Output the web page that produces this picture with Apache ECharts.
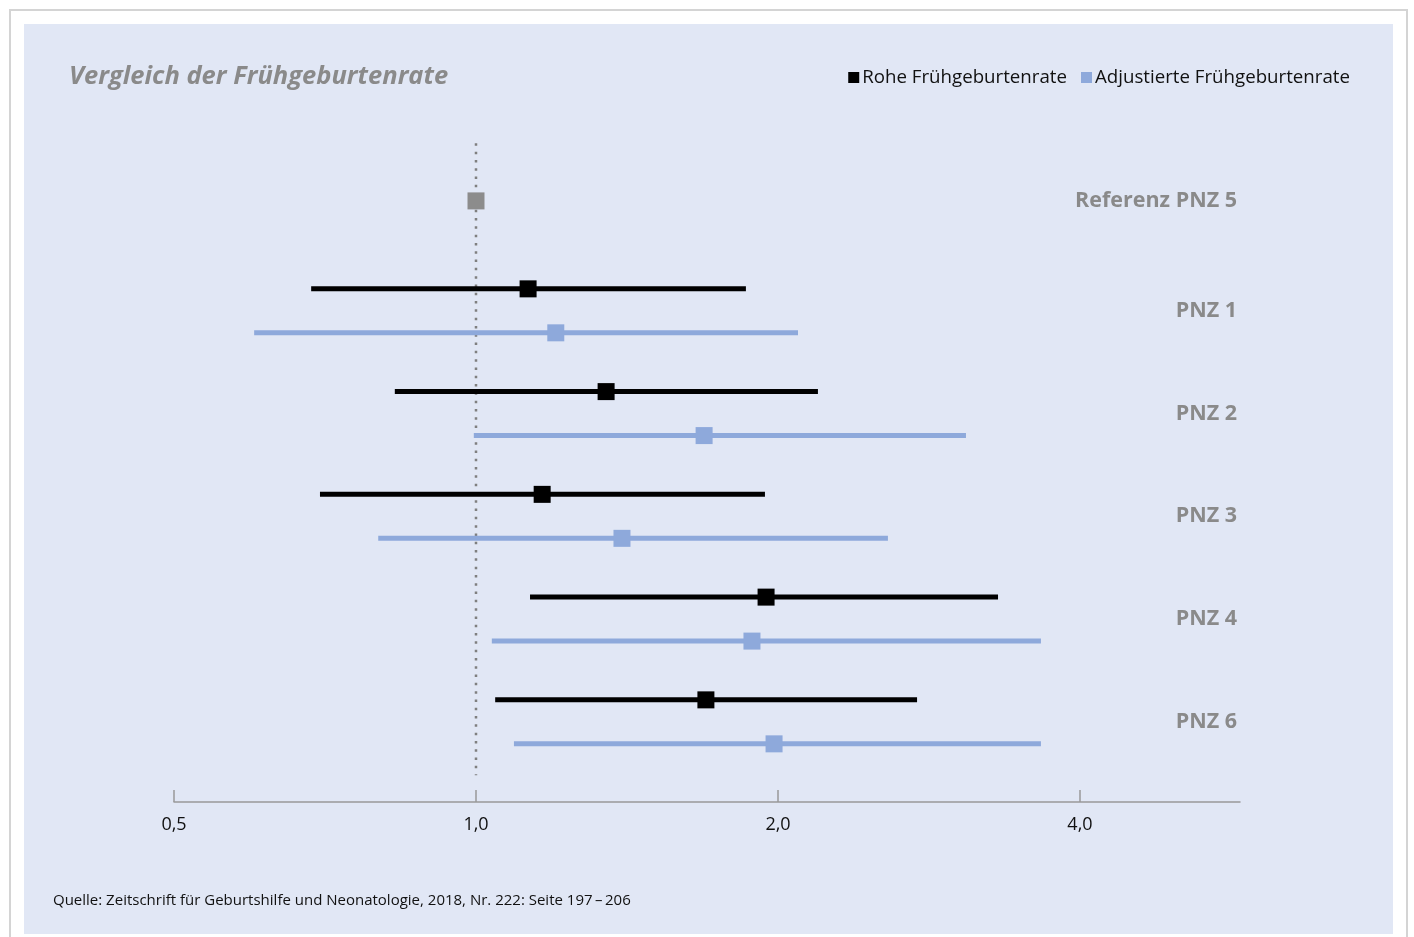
<!DOCTYPE html>
<html>
<head>
<meta charset="utf-8">
<script src="https://cdn.jsdelivr.net/npm/echarts@6/dist/echarts.min.js"></script>
<style>
html,body{margin:0;padding:0;background:#fff;}
#chart{width:1414px;height:937px;}
</style>
</head>
<body>
<div id="chart"></div>
<script>
// ---- Data ----
var rows = ['Referenz PNZ 5', 'PNZ 1', 'PNZ 2', 'PNZ 3', 'PNZ 4', 'PNZ 6'];
var referenceValue = 1.0;
var rawEst  = [null, 1.127, 1.348, 1.164, 1.946, 1.695];
var rawLow  = [null, 0.685, 0.830, 0.699, 1.132, 1.045];
var rawHigh = [null, 1.858, 2.192, 1.941, 3.314, 2.752];
var adjEst  = [null, 1.201, 1.688, 1.398, 1.884, 1.982];
var adjLow  = [null, 0.601, 0.995, 0.799, 1.037, 1.091];
var adjHigh = [null, 2.094, 3.079, 2.574, 3.657, 3.657];
var xTicks = [0.5, 1, 2, 4];
var seriesNames = ['Rohe Frühgeburtenrate', 'Adjustierte Frühgeburtenrate'];
var titleText = 'Vergleich der Frühgeburtenrate';
var sourceText = 'Quelle: Zeitschrift für Geburtshilfe und Neonatologie, 2018, Nr. 222: Seite 197\u2009\u2013\u2009206';

// ---- Styles ----
var FONT = '"Open Sans", "Noto Sans", sans-serif';
var BLACK = '#000000';
var BLUE = '#8EA9DB';
var GREY = '#8a8a8a';
var ROW_SHIFT = 0.214;   // vertical sub-row offset (in row units)
var REF_SHIFT = -0.07;   // reference row sits slightly higher
var MARK = 17;
var LINE_W = 5;

function buildData(low, est, high) {
  var out = [];
  for (var i = 0; i < rows.length; i++) {
    if (est[i] != null) out.push([i, low[i], est[i], high[i]]);
  }
  return out;
}

function ciRenderer(color, shift) {
  return function (params, api) {
    var y = api.value(0) + shift;
    var pL = api.coord([api.value(1), y]);
    var pE = api.coord([api.value(2), y]);
    var pH = api.coord([api.value(3), y]);
    return {
      type: 'group',
      children: [
        { type: 'line', shape: { x1: pL[0], y1: pL[1], x2: pH[0], y2: pH[1] },
          style: { stroke: color, lineWidth: LINE_W } },
        { type: 'rect', shape: { x: pE[0] - MARK / 2, y: pE[1] - MARK / 2, width: MARK, height: MARK },
          style: { fill: color } }
      ]
    };
  };
}

var chart = echarts.init(document.getElementById('chart'), null, { renderer: 'canvas' });

var option = {
  backgroundColor: '#ffffff',
  animation: false,
  textStyle: { fontFamily: FONT },
  title: {
    text: titleText,
    left: 69, top: 64, padding: 0,
    textStyle: { fontFamily: FONT, fontSize: 25.5, fontWeight: 'bold', fontStyle: 'italic', color: GREY }
  },
  legend: {
    data: seriesNames,
    right: 64, top: 68, padding: 0,
    icon: 'rect', itemWidth: 11, itemHeight: 11, itemGap: 14,
    textStyle: { fontFamily: FONT, fontSize: 18.7, color: '#111', padding: [0, 0, 0, -2] }
  },
  graphic: [
    { type: 'rect', z: -10, silent: true, shape: { x: 10, y: 10, width: 1397, height: 960 },
      style: { fill: '#ffffff', stroke: '#d4d4d4', lineWidth: 2 } },
    { type: 'rect', z: -9, silent: true, shape: { x: 24, y: 24, width: 1369, height: 910 },
      style: { fill: '#E1E7F5' } },
    { type: 'text', left: 53, top: 893, silent: true,
      style: { text: sourceText, fontFamily: FONT, fontSize: 15, fill: '#111' } }
  ],
  grid: { left: 174, right: 174, top: 130, bottom: 135, containLabel: false },
  xAxis: {
    type: 'log', logBase: 2, min: 0.5, max: 5.775,
    splitLine: { show: false },
    axisLine: { show: true, onZero: false, lineStyle: { color: '#999', width: 1.5 } },
    axisTick: { show: true, inside: true, length: 12, customValues: xTicks, lineStyle: { color: '#999', width: 1.5 } },
    axisLabel: {
      customValues: xTicks, margin: 14, color: '#111', fontSize: 18, fontFamily: FONT,
      formatter: function (v) { return v.toFixed(1).replace('.', ','); }
    }
  },
  yAxis: {
    type: 'value', inverse: true, min: -0.76, max: 5.78, position: 'right',
    splitLine: { show: false }, axisLine: { show: false }, axisTick: { show: false },
    axisLabel: {
      customValues: [REF_SHIFT, 1, 2, 3, 4, 5],
      align: 'right', margin: -3, color: GREY, fontSize: 21.5, fontWeight: 'bold', fontFamily: FONT,
      padding: [4, 0, 0, 0],
      formatter: function (v) { return rows[Math.max(0, Math.round(v))]; }
    }
  },
  series: [
    {
      type: 'custom', name: 'refline', silent: true, z: 1,
      data: [[referenceValue]],
      renderItem: function (params, api) {
        var a = api.coord([api.value(0), -0.63]);
        var b = api.coord([api.value(0), 5.52]);
        return { type: 'line', shape: { x1: a[0], y1: a[1], x2: b[0], y2: b[1] },
          style: { stroke: '#7f7f7f', lineWidth: 2.5, lineDash: [2.5, 5.8] } };
      }
    },
    {
      type: 'custom', name: 'Referenz', silent: true, z: 3,
      data: [[0, referenceValue]],
      renderItem: function (params, api) {
        var p = api.coord([api.value(1), api.value(0) + REF_SHIFT]);
        return { type: 'rect', shape: { x: p[0] - MARK / 2, y: p[1] - MARK / 2, width: MARK, height: MARK },
          style: { fill: '#8c8c8c' } };
      }
    },
    {
      type: 'custom', name: seriesNames[0], z: 3,
      itemStyle: { color: BLACK },
      encode: { x: [1, 2, 3], y: 0 },
      data: buildData(rawLow, rawEst, rawHigh),
      renderItem: ciRenderer(BLACK, -ROW_SHIFT)
    },
    {
      type: 'custom', name: seriesNames[1], z: 3,
      itemStyle: { color: BLUE },
      encode: { x: [1, 2, 3], y: 0 },
      data: buildData(adjLow, adjEst, adjHigh),
      renderItem: ciRenderer(BLUE, ROW_SHIFT)
    }
  ]
};
chart.setOption(option);
</script>
</body>
</html>
